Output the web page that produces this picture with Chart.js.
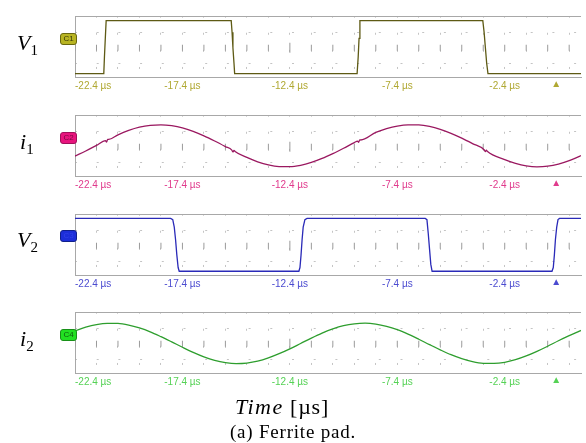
<!DOCTYPE html>
<html><head><meta charset="utf-8">
<script src="https://cdn.jsdelivr.net/npm/chart.js@4/dist/chart.umd.min.js"></script>
<style>
html,body{margin:0;padding:0;background:#fff}
body{width:586px;height:443px;position:relative;overflow:hidden;font-family:"Liberation Sans",Arial,sans-serif}
canvas.p{position:absolute;left:0}
.sym{position:absolute;font-family:"Liberation Serif","Times New Roman",serif;font-style:italic;font-size:22px;line-height:22px;color:#000;white-space:nowrap}
.sym sub{font-style:normal;font-size:15px;vertical-align:-5px;line-height:0}
.badge{position:absolute;width:15px;height:10px;border-radius:3px;font-size:8px;line-height:10px;text-align:center;font-family:"Liberation Sans",Arial,sans-serif}
.trig{position:absolute;font-size:10px;line-height:10px;transform:translateX(-50%)}
.cap{position:absolute;text-align:center;font-family:"Liberation Serif","Times New Roman",serif;color:#000;white-space:nowrap;transform:translateX(-50%)}
</style></head><body>
<canvas class="p" id="c1" width="586" height="95" style="top:5px"></canvas>
<canvas class="p" id="c2" width="586" height="95" style="top:104px"></canvas>
<canvas class="p" id="c3" width="586" height="95" style="top:203px"></canvas>
<canvas class="p" id="c4" width="586" height="95" style="top:301px"></canvas>

<div class="sym" style="left:17px;top:32px">V<sub>1</sub></div>
<div class="sym" style="left:20px;top:131px">i<sub>1</sub></div>
<div class="sym" style="left:17px;top:229px">V<sub>2</sub></div>
<div class="sym" style="left:20px;top:328px">i<sub>2</sub></div>

<div class="badge" style="left:60px;top:33px;background:#b8b422;color:#3a3a08;border:1px solid #6a6810">C1</div>
<div class="badge" style="left:60px;top:132px;background:#e8147e;color:#7a0840;border:1px solid #a0105a">C2</div>
<div class="badge" style="left:60px;top:230px;background:#1c2ed8;color:#3040e8;border:1px solid #10208a">C3</div>
<div class="badge" style="left:60px;top:329px;background:#22e022;color:#106010;border:1px solid #189018">C4</div>

<div class="cap" style="left:282px;top:394px;font-size:22px;letter-spacing:0.8px"><i style="letter-spacing:1.5px">Time</i> [µs]</div>
<div class="cap" style="left:293px;top:421px;font-size:19px;letter-spacing:0.8px">(a) Ferrite pad.</div>

<script>
// ---------- data ----------
const axisStart = -22.4;           // µs, left edge of screen
const axisEnd = 1.15;              // µs, right edge of visible part
const timeLabels = [-22.4, -17.4, -12.4, -7.4, -2.4];
const divisions = [-22.4,-21.4,-20.4,-19.4,-18.4,-17.4,-16.4,-15.4,-14.4,-13.4,-12.4,-11.4,-10.4,-9.4,-8.4,-7.4,-6.4,-5.4,-4.4,-3.4,-2.4,-1.4,-0.4,0.6];
const triggerTime = 0;

const voltRange = [-940, 1020];
const voltTicks = [-800, 800];
const voltGrid = [-500, 500];
const currRange = [-23.5, 25.5];
const currTicks = [-20, 20];
const currGrid = [-12.5, 12.5];

const v1Time  = [-22.4,-21.06,-21.03,-20.99,-20.95,-15.13,-15.09,-15.05,-15.0,-14.97,-9.27,-9.22,-9.18,-9.14,-3.42,-3.36,-3.3,-3.24,-3.18,1.15];
const v1Volts = [-830,-830,-300,300,870,870,500,0,-500,-830,-830,-300,300,870,870,500,0,-500,-830,-830];

const v2Time  = [-22.4,-17.95,-17.85,-17.78,-17.72,-17.66,-17.6,-17.55,-11.98,-11.93,-11.88,-11.83,-11.78,-11.7,-11.6,-6.1,-6.02,-5.96,-5.9,-5.84,-5.78,-0.2,-0.14,-0.09,-0.04,0.02,0.08,0.15,1.15];
const v2Volts = [877,877,840,600,200,-300,-700,-820,-820,-700,-300,200,600,840,877,877,840,400,-100,-600,-820,-820,-700,-300,200,600,840,877,877];

const i1Time = [-22.4,-21.9,-21.4,-20.98,-20.93,-20.88,-20.83,-20.4,-19.9,-19.4,-18.9,-18.4,-17.9,-17.4,-16.9,-16.4,-15.9,-15.4,-15.1,-15.05,-15.0,-14.95,-14.4,-13.9,-13.4,-12.9,-12.4,-11.9,-11.4,-10.9,-10.4,-9.9,-9.4,-9.25,-9.2,-9.15,-9.1,-8.4,-7.9,-7.4,-6.9,-6.4,-5.9,-5.4,-4.9,-4.4,-3.9,-3.35,-3.3,-3.25,-3.2,-2.4,-1.9,-1.4,-0.9,-0.4,0.1,0.6,1.1,1.15];
const i1Amps = [-7.5,-3.4,1.1,4.9,3.8,5.9,5.9,9.6,13.1,15.7,17.2,17.6,16.9,15.2,12.4,8.8,4.6,0.1,-2.7,-4.2,-2.9,-3.8,-8.6,-12.1,-14.6,-15.9,-16.0,-14.9,-12.6,-9.4,-5.5,-1.2,3.3,4.5,3.6,5.5,5.4,11.5,14.5,16.6,17.6,17.5,16.3,14.0,10.8,6.9,2.5,-2.6,-4.0,-2.8,-3.9,-10.3,-13.3,-15.3,-16.1,-15.6,-13.9,-11.1,-7.5,-7.1];

const i2Time = [-22.4,-21.9,-21.4,-20.9,-20.4,-19.9,-19.4,-18.9,-18.4,-17.9,-17.4,-16.9,-16.4,-15.9,-15.4,-14.9,-14.4,-13.9,-13.4,-12.9,-12.4,-11.9,-11.4,-10.9,-10.4,-9.9,-9.4,-8.9,-8.4,-7.9,-7.4,-6.9,-6.4,-5.9,-5.4,-4.9,-4.4,-3.9,-3.4,-2.9,-2.4,-1.9,-1.4,-0.9,-0.4,0.1,0.6,1.1,1.15];
const i2Amps = [10.3,13.3,15.4,16.4,16.3,15.0,12.7,9.6,5.7,1.5,-2.8,-6.9,-10.5,-13.3,-15.1,-15.9,-15.5,-14.0,-11.4,-8.0,-4.1,0.2,4.5,8.5,11.9,14.5,16.0,16.5,15.8,14.0,11.3,7.7,3.6,-0.7,-4.9,-8.8,-12.0,-14.4,-15.7,-15.8,-14.9,-12.8,-9.8,-6.1,-2.0,2.4,6.5,10.3,10.7];

// ---------- drawing ----------
function isTick(list, v) { return list.some(l => Math.abs(l - v) < 1e-6); }

function panel(id, o) {
  const [ymin, ymax] = o.range;
  const pts = o.t.map((t, i) => ({x: t, y: o.v[i]}));
  const chart = new Chart(document.getElementById(id), {
    type: 'line',
    data: {datasets: [
      {data: pts, borderColor: o.trace, borderWidth: 1.3, pointRadius: 0,
       cubicInterpolationMode: o.smooth ? 'monotone' : 'default', tension: 0, order: 1},
      {data: divisions.map(t => ({x: t, y: 0})), showLine: false, pointStyle: 'line', rotation: 90,
       pointRadius: divisions.map(t => Math.abs(t + 12.4) < 1e-6 ? 5 : 3),
       borderColor: '#9a9a9a', borderWidth: 1, order: 2}
    ]},
    options: {
      responsive: false, animation: false, events: [],
      layout: {padding: {top: 5, right: 0, left: 0, bottom: 0}},
      plugins: {legend: {display: false}, tooltip: {enabled: false}},
      scales: {
        x: {
          type: 'linear', min: axisStart, max: axisEnd,
          afterBuildTicks: s => { s.ticks = divisions.map(v => ({value: v})); },
          afterFit: s => { s.height = 23; },
          ticks: {
            autoSkip: false, maxRotation: 0, minRotation: 0, align: 'inner', padding: 3,
            color: o.label, font: {family: "'Liberation Sans', Arial, sans-serif", size: 10},
            callback: v => isTick(timeLabels, v) ? (v.toFixed(1) + ' µs') : ''
          },
          grid: {
            drawTicks: false,
            color: c => (c.tick && Math.abs(c.tick.value - axisStart) < 1e-6) ? 'rgba(0,0,0,0)' : '#c4c4c4'
          },
          border: {
            color: '#a8a8a8', width: 1,
            dash: c => c.tick ? [2, 15.09] : [],
            dashOffset: 0.31
          }
        },
        y: {
          type: 'linear', min: ymin, max: ymax,
          afterBuildTicks: s => {
            s.ticks = [ymin, o.ticks[0], o.grid[0], 0, o.grid[1], o.ticks[1], ymax].map(v => ({value: v}));
          },
          afterFit: s => { s.width = 75; },
          ticks: {
            padding: 5, color: o.label, font: {family: "'Liberation Sans', Arial, sans-serif", size: 10},
            callback: v => o.ticks.includes(v) ? (v + ' ' + o.unit) : ''
          },
          grid: {
            drawTicks: false,
            color: c => {
              const v = c.tick ? c.tick.value : null;
              if (v === ymax) return '#a8a8a8';
              if (v === 0) return '#9a9a9a';
              if (o.grid.includes(v)) return '#c4c4c4';
              return 'rgba(0,0,0,0)';
            }
          },
          border: {
            color: '#a8a8a8', width: 1,
            dash: c => (c.tick && o.grid.includes(c.tick.value)) ? [2, 19.7] : [],
            dashOffset: 1
          }
        }
      }
    }
  });
  const tx = chart.scales.x.getPixelForValue(triggerTime);
  const cv = document.getElementById(id);
  const d = document.createElement('div');
  d.className = 'trig';
  d.textContent = '▲';
  d.style.color = o.label;
  d.style.left = tx + 'px';
  d.style.top = (parseFloat(cv.style.top) + chart.chartArea.bottom + 2) + 'px';
  document.body.appendChild(d);
}

panel('c1', {t: v1Time, v: v1Volts, range: voltRange, ticks: voltTicks, grid: voltGrid, unit: 'V', trace: '#5e5a14', label: '#b0a832', smooth: false});
panel('c2', {t: i1Time, v: i1Amps, range: currRange, ticks: currTicks, grid: currGrid, unit: 'A', trace: '#9a1860', label: '#e03a8c', smooth: true});
panel('c3', {t: v2Time, v: v2Volts, range: voltRange, ticks: voltTicks, grid: voltGrid, unit: 'V', trace: '#2a2ab8', label: '#4b4bd0', smooth: false});
panel('c4', {t: i2Time, v: i2Amps, range: currRange, ticks: currTicks, grid: currGrid, unit: 'A', trace: '#2e9e2e', label: '#55d255', smooth: true});
</script>
</body></html>
